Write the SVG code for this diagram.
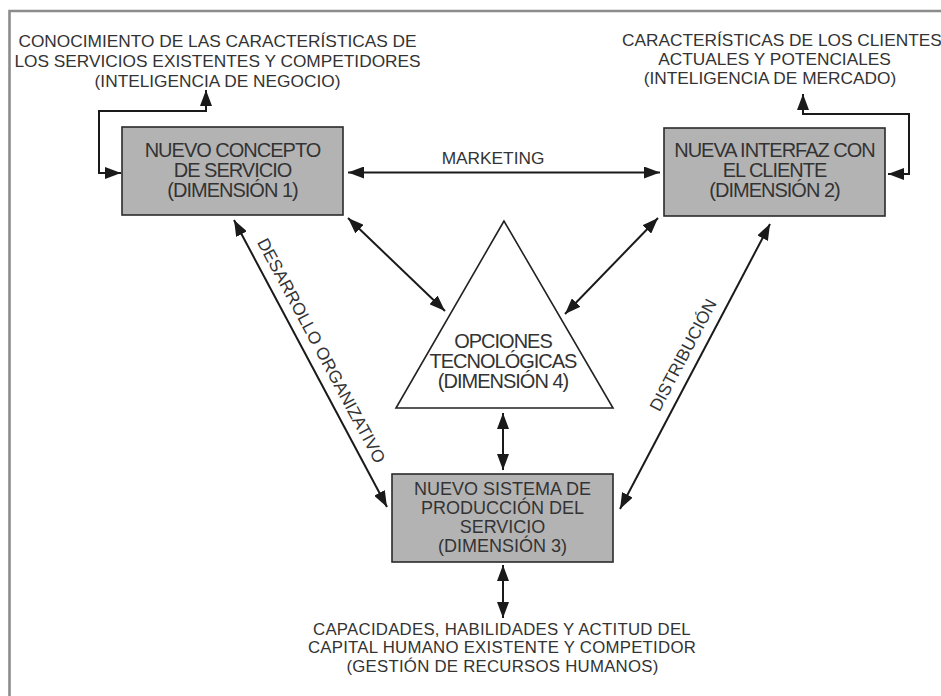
<svg xmlns="http://www.w3.org/2000/svg" width="941" height="696" viewBox="0 0 941 696">
  <style>
    .frame { fill: none; stroke: #8c8c8c; stroke-width: 2.6; }
    .box { fill: #b3b3b3; stroke: #2a2a2a; stroke-width: 1.6; }
    .tri { fill: #ffffff; stroke: #222222; stroke-width: 1.6; }
    .node-text { font-family: "Liberation Sans", Arial, sans-serif; font-size: 20px; letter-spacing: -1px; fill: #333333; text-anchor: middle; }
    .node-text.compact { font-size: 18px; letter-spacing: 0; }
    .label { font-family: "Liberation Sans", Arial, sans-serif; font-size: 17.3px; fill: #333333; text-anchor: middle; }
    .label.compact { font-size: 16.8px; letter-spacing: 0.25px; }
    .conn { fill: none; stroke: #1a1a1a; stroke-width: 2; }
  </style>
  <defs>
    <marker id="arrow" markerUnits="userSpaceOnUse" markerWidth="16" markerHeight="12" refX="16" refY="6" orient="auto-start-reverse" viewBox="0 0 16 12">
      <path d="M0,0 L16,6 L0,12 Z" fill="#1a1a1a"/>
    </marker>
  </defs>

  <rect width="941" height="696" fill="#ffffff"/>
  <!-- outer frame, open to the right and bottom -->
  <path class="frame" d="M9.5,696 V11 H941"/>

  <!-- connectors -->
  <g id="connectors">
    <!-- feedback loop: concept -> business intelligence -->
    <path class="conn" d="M206,90 V111 H99 V173 H121" marker-start="url(#arrow)" marker-end="url(#arrow)"/>
    <!-- feedback loop: interface -> market intelligence -->
    <path class="conn" d="M803,94 V114 H909 V174 H888" marker-start="url(#arrow)" marker-end="url(#arrow)"/>
    <!-- marketing -->
    <path class="conn" d="M348,172.5 H660" marker-start="url(#arrow)" marker-end="url(#arrow)"/>
    <!-- concept <-> technology -->
    <path class="conn" d="M348,218 L445,311" marker-start="url(#arrow)" marker-end="url(#arrow)"/>
    <!-- interface <-> technology -->
    <path class="conn" d="M658,218 L565,314" marker-start="url(#arrow)" marker-end="url(#arrow)"/>
    <!-- organisational development -->
    <path class="conn" d="M234,220 L387,507" marker-start="url(#arrow)" marker-end="url(#arrow)"/>
    <!-- distribution -->
    <path class="conn" d="M770,224 L620,509" marker-start="url(#arrow)" marker-end="url(#arrow)"/>
    <!-- technology <-> production -->
    <path class="conn" d="M503,413 V470" marker-start="url(#arrow)" marker-end="url(#arrow)"/>
    <!-- production <-> human resources -->
    <path class="conn" d="M503,565 V618" marker-start="url(#arrow)" marker-end="url(#arrow)"/>

    <text class="label" x="493" y="164">MARKETING</text>
    <text class="label" transform="translate(321.5,350.5) rotate(61.85)" y="6">DESARROLLO ORGANIZATIVO</text>
    <text class="label" transform="translate(683,355) rotate(-62.2)" y="6">DISTRIBUCIÓN</text>
  </g>

  <!-- dimension 1 -->
  <g id="concepto">
    <rect class="box" x="122" y="127" width="221" height="88"/>
    <text class="node-text" x="232.5" y="157">NUEVO CONCEPTO</text>
    <text class="node-text" x="232.5" y="177">DE SERVICIO</text>
    <text class="node-text" x="232.5" y="197">(DIMENSIÓN 1)</text>
  </g>

  <!-- dimension 2 -->
  <g id="interfaz">
    <rect class="box" x="664" y="128" width="221" height="88"/>
    <text class="node-text" x="774.5" y="157">NUEVA INTERFAZ CON</text>
    <text class="node-text" x="774.5" y="177">EL CLIENTE</text>
    <text class="node-text" x="774.5" y="197">(DIMENSIÓN 2)</text>
  </g>

  <!-- dimension 3 -->
  <g id="produccion">
    <rect class="box" x="392" y="474" width="221" height="88"/>
    <text class="node-text compact" x="502.5" y="494.5">NUEVO SISTEMA DE</text>
    <text class="node-text compact" x="502.5" y="513.5">PRODUCCIÓN DEL</text>
    <text class="node-text compact" x="502.5" y="532.5">SERVICIO</text>
    <text class="node-text compact" x="502.5" y="551.5">(DIMENSIÓN 3)</text>
  </g>

  <!-- dimension 4 -->
  <g id="tecnologia">
    <polygon class="tri" points="504,221 396,408 613,408"/>
    <text class="node-text" x="503" y="347.5">OPCIONES</text>
    <text class="node-text" x="503" y="367.5">TECNOLÓGICAS</text>
    <text class="node-text" x="503" y="387.5">(DIMENSIÓN 4)</text>
  </g>

  <!-- business intelligence -->
  <g id="negocio">
    <text class="label" x="217.5" y="47">CONOCIMIENTO DE LAS CARACTERÍSTICAS DE</text>
    <text class="label" x="217.5" y="66.5">LOS SERVICIOS EXISTENTES Y COMPETIDORES</text>
    <text class="label" x="217.5" y="86.5">(INTELIGENCIA DE NEGOCIO)</text>
  </g>

  <!-- market intelligence -->
  <g id="mercado">
    <text class="label" x="622" y="46" style="text-anchor:start">CARACTERÍSTICAS DE LOS CLIENTES</text>
    <text class="label" x="774.5" y="65">ACTUALES Y POTENCIALES</text>
    <text class="label" x="770" y="84">(INTELIGENCIA DE MERCADO)</text>
  </g>

  <!-- human resources -->
  <g id="recursos-humanos">
    <text class="label compact" x="502" y="634.5">CAPACIDADES, HABILIDADES Y ACTITUD DEL</text>
    <text class="label compact" x="502" y="653">CAPITAL HUMANO EXISTENTE Y COMPETIDOR</text>
    <text class="label compact" x="502.5" y="671.5">(GESTIÓN DE RECURSOS HUMANOS)</text>
  </g>
</svg>
